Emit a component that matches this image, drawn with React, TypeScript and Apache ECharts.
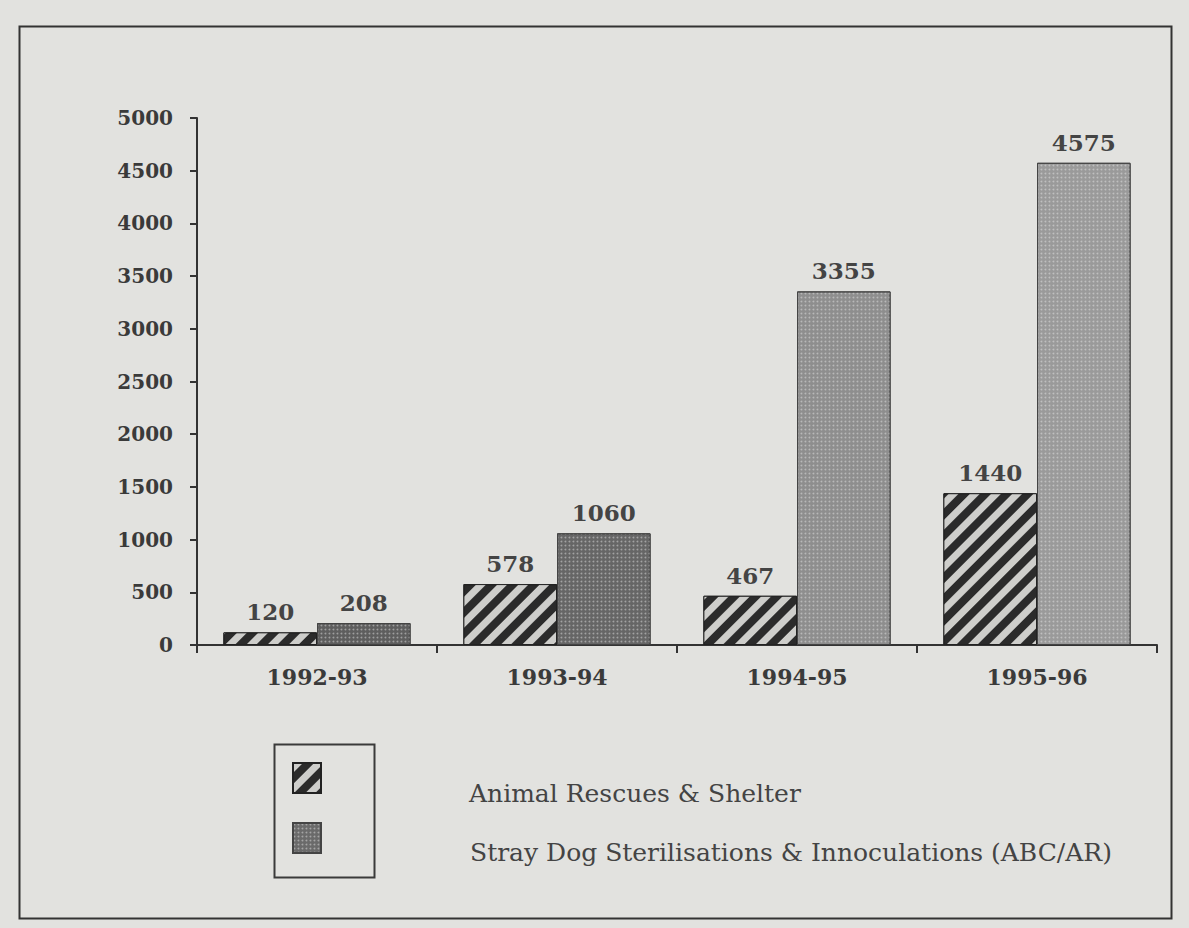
import React, { useEffect, useRef } from "react";
import * as echarts from "echarts";

const categories = ["1992-93", "1993-94", "1994-95", "1995-96"];
const rescues = [120, 578, 467, 1440];
const stray = [208, 1060, 3355, 4575];
const seriesNames = ["Animal Rescues & Shelter", "Stray Dog Sterilisations & Innoculations (ABC/AR)"];
const strayShades = ["#5e5e5e", "#666666", "#8e8e8e", "#9a9a9a"];

const FONT = "DejaVu Serif";

export default function App() {
  const ref = useRef<HTMLDivElement>(null);
  useEffect(() => {
    if (!ref.current) return;
    const chart = echarts.init(ref.current, undefined, { renderer: "svg" });
    chart.setOption({
      animation: false,
      backgroundColor: "#e2e2df",
      grid: { left: 197, right: 32, top: 118, bottom: 283, containLabel: false },
      legend: {
        orient: "vertical",
        left: 292,
        top: 762,
        padding: 0,
        itemWidth: 28,
        itemHeight: 30,
        itemGap: 28,
        icon: "rect",
        selectedMode: false,
        data: seriesNames,
        formatter: () => "",
      },
      xAxis: {
        type: "category",
        data: categories,
        axisLine: { lineStyle: { color: "#333", width: 2 } },
        axisTick: { show: true, length: 8, lineStyle: { color: "#333", width: 2 } },
        axisLabel: {
          fontFamily: FONT,
          fontWeight: "bold",
          fontSize: 22,
          color: "#3a3a3a",
          margin: 21,
        },
      },
      yAxis: {
        type: "value",
        min: 0,
        max: 5000,
        interval: 500,
        splitLine: { show: false },
        axisLine: { show: true, lineStyle: { color: "#333", width: 2 } },
        axisTick: { show: true, length: 7, lineStyle: { color: "#333", width: 2 } },
        axisLabel: {
          fontFamily: FONT,
          fontWeight: "bold",
          fontSize: 20,
          color: "#3a3a3a",
          margin: 24,
          formatter: (v: number) => String(v),
        },
      },
      series: [
        {
          name: seriesNames[0],
          type: "bar",
          data: rescues,
          barGap: "0%",
          barCategoryGap: "22%",
          itemStyle: {
            color: "#2b2b2b",
            borderColor: "#222",
            borderWidth: 1,
            decal: {
              symbol: "rect",
              color: "rgba(215,215,212,0.95)",
              dashArrayX: [1, 0],
              dashArrayY: [7, 8],
              rotation: -Math.PI / 4,
            },
          },
          label: {
            show: true,
            position: "top",
            distance: 9,
            fontFamily: FONT,
            fontWeight: "bold",
            fontSize: 23,
            color: "#444",
          },
        },
        {
          name: seriesNames[1],
          type: "bar",
          data: stray.map((v, i) => ({
            value: v,
            itemStyle: { color: strayShades[i] },
          })),
          itemStyle: {
            color: "#6a6a6a",
            borderColor: "#444",
            borderWidth: 1,
            decal: {
              symbol: "circle",
              symbolSize: 0.6,
              color: "rgba(235,235,235,0.45)",
              dashArrayX: [3, 1],
              dashArrayY: [3, 1],
              rotation: 0,
            },
          },
          label: {
            show: true,
            position: "top",
            distance: 9,
            fontFamily: FONT,
            fontWeight: "bold",
            fontSize: 23,
            color: "#444",
          },
        },
      ],
      graphic: [
        {
          type: "rect",
          left: 17,
          top: 24,
          shape: { width: 1152, height: 892 },
          style: { fill: "none", stroke: "#333", lineWidth: 2 },
          silent: true,
        },
        {
          type: "rect",
          left: 272,
          top: 742,
          shape: { width: 100, height: 133 },
          style: { fill: "none", stroke: "#3a3a3a", lineWidth: 2 },
          silent: true,
        },
        {
          type: "text",
          x: 469,
          y: 793,
          style: {
            text: seriesNames[0],
            fontFamily: FONT,
            fontSize: 25,
            fill: "#444",
            verticalAlign: "middle",
            align: "left",
          },
          silent: true,
        },
        {
          type: "text",
          x: 470,
          y: 852,
          style: {
            text: seriesNames[1],
            fontFamily: FONT,
            fontSize: 25,
            fill: "#444",
            verticalAlign: "middle",
            align: "left",
          },
          silent: true,
        },
      ],
    });
    return () => chart.dispose();
  }, []);
  return (
    <div
      ref={ref}
      style={{ position: "absolute", left: 0, top: 0, width: 1189, height: 928 }}
    />
  );
}
